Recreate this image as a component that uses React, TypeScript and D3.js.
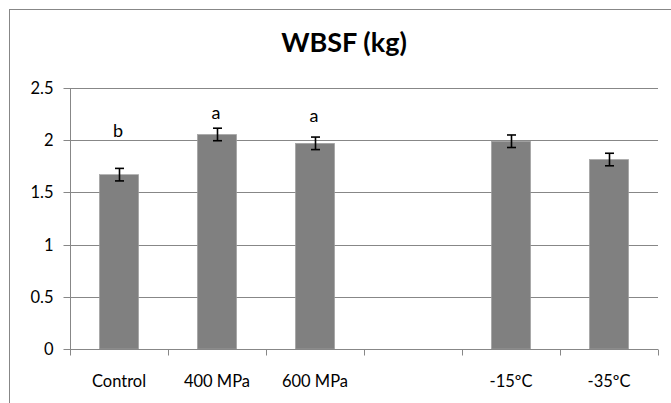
import React, { useEffect, useRef } from "react";
import * as d3 from "d3";

// WBSF (kg) per treatment
const categories = ["Control", "400 MPa", "600 MPa", "", "-15ºC", "-35ºC"];
const values: (number | null)[] = [1.67, 2.055, 1.97, null, 1.99, 1.815];
const errors: (number | null)[] = [0.06, 0.06, 0.06, null, 0.06, 0.06];
const letters = ["b", "a", "a", "", "", ""];
const letterPos = [2.03, 2.2, 2.17, 0, 0, 0];
const yTicks = [0, 0.5, 1, 1.5, 2, 2.5];

const App: React.FC = () => {
  const svgRef = useRef<SVGSVGElement | null>(null);

  useEffect(() => {
    const width = 671;
    const height = 403;
    const marginLeft = 70;
    const marginRight = 13;
    const marginTop = 88;
    const marginBottom = 54;
    const grey = "#878787";
    const font = "Lato, 'Open Sans', sans-serif";

    const svg = d3.select(svgRef.current);
    svg.selectAll("*").remove();
    svg.attr("width", width).attr("height", height);

    // outer chart frame (cut off at right and bottom)
    svg
      .append("rect")
      .attr("x", 9.5)
      .attr("y", 9.5)
      .attr("width", 720)
      .attr("height", 420)
      .attr("fill", "white")
      .attr("stroke", grey);

    const x = d3
      .scaleBand()
      .domain(categories.map((_, i) => i.toString()))
      .range([marginLeft, width - marginRight])
      .paddingInner(0.6)
      .paddingOuter(0.3);
    const step = x.step();
    const cx = (i: number) => (x(i.toString()) as number) + x.bandwidth() / 2;

    const y = d3
      .scaleLinear()
      .domain([0, 2.5])
      .range([height - marginBottom, marginTop]);

    // gridlines
    svg
      .append("g")
      .selectAll("line")
      .data(yTicks)
      .enter()
      .append("line")
      .attr("x1", marginLeft)
      .attr("x2", width - marginRight)
      .attr("y1", (d) => Math.round(y(d)) + 0.5)
      .attr("y2", (d) => Math.round(y(d)) + 0.5)
      .attr("stroke", grey);

    // y axis
    const gy = svg
      .append("g")
      .attr("transform", `translate(${marginLeft + 0.5},0.5)`)
      .call(
        d3
          .axisLeft(y)
          .tickValues(yTicks)
          .tickSize(7)
          .tickPadding(10)
          .tickFormat((d) => d.toString()),
      );
    gy.select(".domain").attr("stroke", grey).attr("d", `M0,${y(2.5)}V${y(0)}`);
    gy.selectAll(".tick line").attr("stroke", grey);
    gy.selectAll(".tick text")
      .attr("fill", "#000")
      .style("font", `16.5px ${font}`)
      .attr("dy", "0.35em");
    gy.selectAll(".tick").attr("transform", (d: any) => `translate(0,${Math.round(y(d))})`);

    // bars
    values.forEach((v, i) => {
      if (v === null) return;
      svg
        .append("rect")
        .attr("x", x(i.toString()) as number)
        .attr("y", y(v))
        .attr("width", x.bandwidth())
        .attr("height", y(0) - y(v))
        .attr("fill", "#808080")
        .attr("stroke", "#a3a3a3")
        .attr("stroke-width", 0.6);
    });

    // x axis line + ticks at category boundaries
    const y0 = Math.round(y(0)) + 0.5;
    svg
      .append("line")
      .attr("x1", marginLeft)
      .attr("x2", width - marginRight)
      .attr("y1", y0)
      .attr("y2", y0)
      .attr("stroke", grey);
    svg
      .append("g")
      .selectAll("line")
      .data(d3.range(categories.length + 1))
      .enter()
      .append("line")
      .attr("x1", (i) => Math.round(marginLeft + i * step) + 0.5)
      .attr("x2", (i) => Math.round(marginLeft + i * step) + 0.5)
      .attr("y1", y0)
      .attr("y2", y0 + 6)
      .attr("stroke", grey);

    // category labels
    svg
      .append("g")
      .selectAll("text")
      .data(categories)
      .enter()
      .append("text")
      .attr("x", (_, i) => cx(i))
      .attr("y", y0 + 37)
      .attr("text-anchor", "middle")
      .style("font", `16.5px ${font}`)
      .text((d) => d);

    // error bars
    const eb = svg.append("g").attr("stroke", "#000").attr("stroke-width", 1.6);
    values.forEach((v, i) => {
      const e = errors[i];
      if (v === null || e === null) return;
      const c = Math.round(cx(i)) + 0.5;
      eb.append("line").attr("x1", c).attr("x2", c).attr("y1", y(v + e)).attr("y2", y(v - e));
      [v + e, v - e].forEach((t) => {
        eb.append("line")
          .attr("x1", c - 4.5)
          .attr("x2", c + 4.5)
          .attr("y1", y(t))
          .attr("y2", y(t));
      });
    });

    // significance letters
    letters.forEach((l, i) => {
      if (!l) return;
      svg
        .append("text")
        .attr("x", cx(i) - 1)
        .attr("y", y(letterPos[i]))
        .attr("text-anchor", "middle")
        .style("font", `18px ${font}`)
        .text(l);
    });

    // title
    svg
      .append("text")
      .attr("x", 344)
      .attr("y", 52)
      .attr("text-anchor", "middle")
      .style("font", `bold 27px ${font}`)
      .text("WBSF (kg)");
  }, []);

  return (
    <div style={{ position: "absolute", left: 0, top: 0 }}>
      <svg ref={svgRef} style={{ display: "block" }}></svg>
    </div>
  );
};

export default App;
